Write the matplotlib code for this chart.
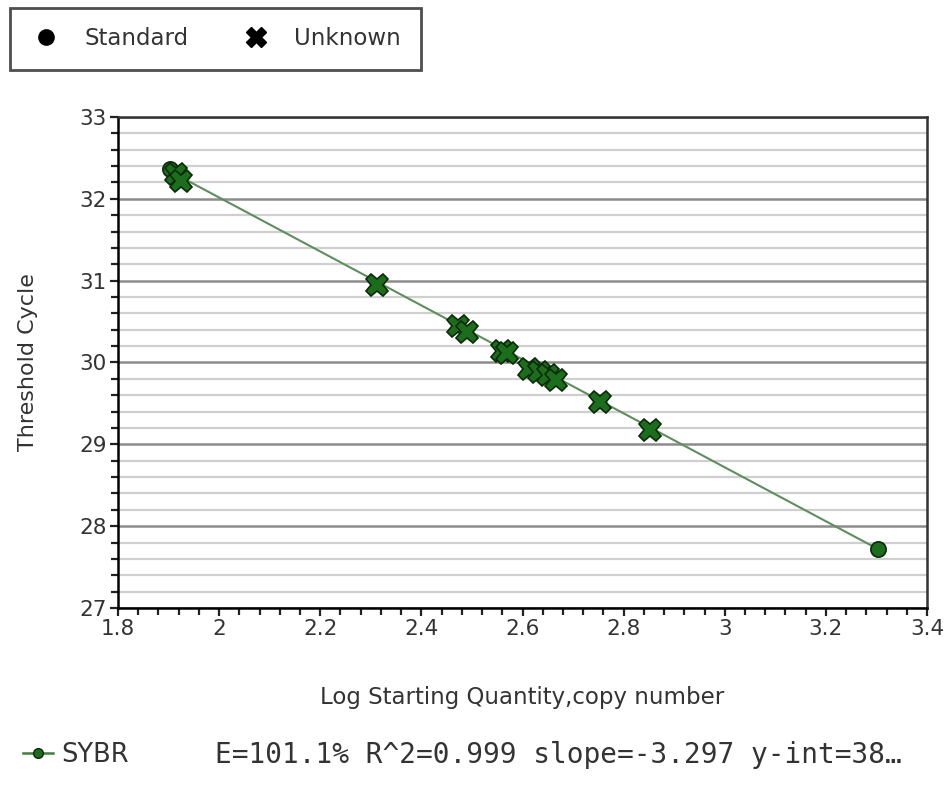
import matplotlib.pyplot as plt
from matplotlib.lines import Line2D
from matplotlib.ticker import MultipleLocator

# standard curve data
std_x = [1.903, 3.303]
std_y = [32.36, 27.72]

unk_x = [1.915, 1.925, 2.312, 2.472, 2.490, 2.560, 2.570, 2.612, 2.632, 2.650, 2.666, 2.753, 2.852]
unk_y = [32.30, 32.22, 30.95, 30.44, 30.37, 30.14, 30.11, 29.92, 29.88, 29.85, 29.79, 29.52, 29.17]

slope = -3.297
y_int = 38.61
stats_text = "E=101.1% R^2=0.999 slope=-3.297 y-int=38\u2026"

green_fill = "#1c6e1c"
line_col = "#5e8e5e"

fig = plt.figure(figsize=(9.5, 7.85), dpi=100)
ax = fig.add_axes([0.1242, 0.2255, 0.8516, 0.6255])

# fit line across the standards
fit_x = [min(std_x), max(std_x)]
fit_y = [slope * v + y_int for v in fit_x]
ax.plot(fit_x, fit_y, color=line_col, lw=1.5, zorder=3)

ax.plot(std_x, std_y, 'o', ms=11, mfc=green_fill, mec="#0a2a0a", mew=1.2, zorder=4)
ax.plot(unk_x, unk_y, 'X', ms=16, mfc=green_fill, mec="#0a2a0a", mew=1.2, zorder=5)

ax.set_xlim(1.8, 3.4)
ax.set_ylim(27, 33)
ax.xaxis.set_major_locator(MultipleLocator(0.2))
ax.xaxis.set_minor_locator(MultipleLocator(0.04))
ax.yaxis.set_major_locator(MultipleLocator(1))
ax.yaxis.set_minor_locator(MultipleLocator(0.2))
ax.set_xticklabels([f"{v:g}" for v in ax.get_xticks()])

ax.grid(axis='y', which='major', color='#8c8c8c', lw=1.8)
ax.grid(axis='y', which='minor', color='#cfcfcf', lw=1.6)
ax.set_axisbelow(True)

for s in ax.spines.values():
    s.set_color('#333333')
    s.set_linewidth(1.8)
ax.spines['left'].set_color('black')
ax.spines['bottom'].set_color('black')

ax.tick_params(which='both', direction='out', length=6, width=1.6, color='#222222',
               labelsize=15.5, labelcolor='#333333', pad=2)
ax.tick_params(which='minor', length=5)

ax.set_xlabel("Log Starting Quantity,copy number", fontsize=16.5, color='#333333', labelpad=34)
ax.set_ylabel("Threshold Cycle", fontsize=16, color='#333333', labelpad=30)

# series key at the top
key = [Line2D([], [], ls='none', marker='o', ms=11, color='black', label='Standard'),
       Line2D([], [], ls='none', marker='X', ms=15, color='black', label='Unknown')]
leg = fig.legend(handles=key, loc='upper left', bbox_to_anchor=(0.011, 0.99), ncol=2,
                 fontsize=16.5, frameon=True, fancybox=False, edgecolor='#222222',
                 handlelength=1.4, handletextpad=1.0, columnspacing=2.2,
                 borderpad=0.85, borderaxespad=0)
leg.get_frame().set_linewidth(2)
for t in leg.get_texts():
    t.set_color('#333333')

# target legend and fit stats at the bottom
trg = [Line2D([], [], color='#3f7f3f', lw=1.8, marker='o', ms=7, mfc=green_fill,
              mec='#0a2a0a', label='SYBR')]
leg2 = fig.legend(handles=trg, loc='center left', bbox_to_anchor=(0.013, 0.038),
                  fontsize=18.5, frameon=False, handlelength=1.2, handletextpad=0.3,
                  borderaxespad=0)
for t in leg2.get_texts():
    t.set_color('#333333')
fig.text(0.226, 0.038, stats_text, family='DejaVu Sans Mono', fontsize=20,
         color='#333333', va='center', ha='left')

fig.savefig("out.png", dpi=100)
